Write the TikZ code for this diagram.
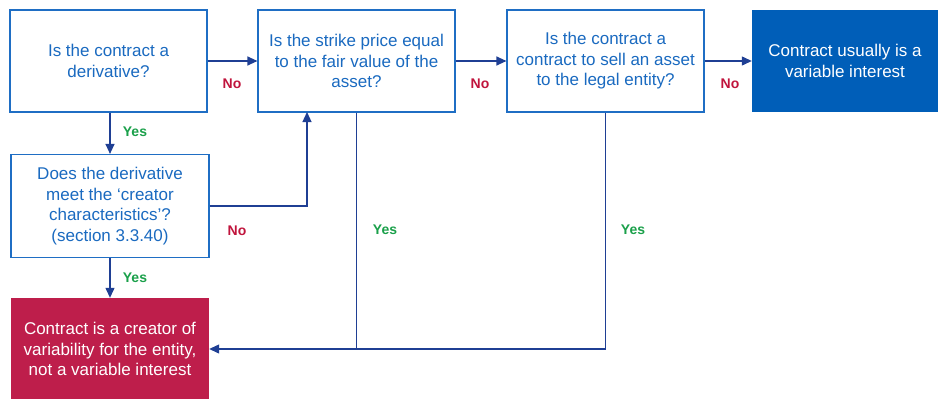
\documentclass[tikz,border=0pt]{standalone}
\usepackage{fontspec}
\setmainfont{Liberation Sans}
\usetikzlibrary{arrows.meta}
\definecolor{boxblue}{HTML}{1F6EC4}
\definecolor{txtblue}{HTML}{1A6AC0}
\definecolor{fillblue}{HTML}{005EB8}
\definecolor{fillred}{HTML}{BE1E4B}
\definecolor{arrblue}{HTML}{1F3F94}
\definecolor{nored}{HTML}{C0143C}
\definecolor{yesgreen}{HTML}{1AA04A}
\begin{document}
\begin{tikzpicture}[x=1pt,y=-1pt,
  qbox/.style={draw=boxblue, line width=1.2pt, fill=white, text=txtblue, align=center,
    minimum width=197pt, minimum height=102pt, inner sep=2pt,
    font=\fontsize{17}{20.5}\selectfont},
  endbox/.style={draw=none, text=white, align=center,
    minimum height=102pt, inner sep=2pt,
    font=\fontsize{17}{20.5}\selectfont},
  conn/.style={draw=arrblue, line width=1.2pt},
  arr/.style={conn, -{Triangle[length=10pt,width=9pt]}},
  nolab/.style={text=nored, font=\bfseries\fontsize{14}{16}\selectfont},
  yeslab/.style={text=yesgreen, font=\bfseries\fontsize{14}{16}\selectfont}]
\useasboundingbox (0,0) rectangle (938,399);
\node[qbox] (A) at (108.5,61) {Is the contract a\\derivative?};
\node[qbox] (B) at (356.5,61) {Is the strike price equal\\to the fair value of the\\asset?};
\node[qbox] (C) at (605.5,61) {Is the contract a\\contract to sell an asset\\to the legal entity?};
\node[endbox, fill=fillblue, minimum width=186pt] (D) at (845,61) {Contract usually is a\\variable interest};
\node[qbox, minimum width=198pt, minimum height=103pt] (E) at (110,206) {Does the derivative\\meet the ‘creator\\characteristics’?\\(section 3.3.40)};
\node[endbox, fill=fillred, minimum width=198pt] (F) at (110,349) {Contract is a creator of\\variability for the entity,\\not a variable interest};
\coordinate (EB) at (307,112);
\coordinate (J) at (356.5,349);
\draw[arr] (A.east) -- (B.west);
\draw[arr] (B.east) -- (C.west);
\draw[arr] (C.east) -- (D.west);
\draw[arr] (A.south -| E.north) -- (E.north);
\draw[arr] (E.south) -- (F.north);
\draw[arr] (E.east) -| (EB);
\draw[conn] (B.south) -- (J);
\draw[arr] (C.south) |- (F.east);
\node[nolab] (n1) at (232,84) {No};
\node[nolab] (n2) at (480,84) {No};
\node[nolab] (n3) at (730,84) {No};
\node[nolab] (n4) at (237,231) {No};
\node[yeslab] (y1) at (135,132) {Yes};
\node[yeslab] (y2) at (135,278) {Yes};
\node[yeslab] (y3) at (385,230) {Yes};
\node[yeslab] (y4) at (633,230) {Yes};
\end{tikzpicture}
\end{document}
